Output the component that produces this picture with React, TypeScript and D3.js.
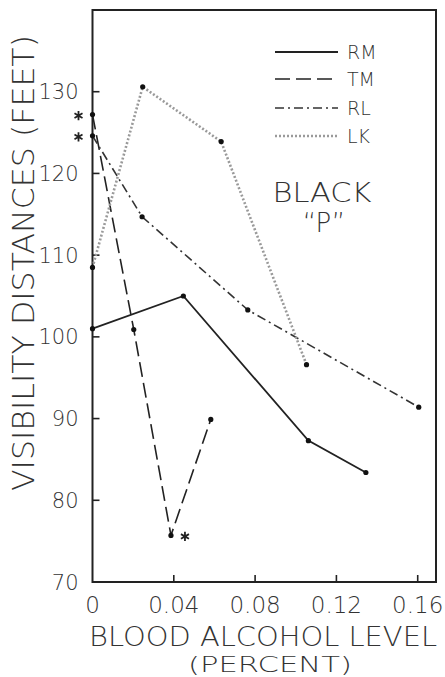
import React from "react";
import * as d3 from "d3";

const seriesNames = ["RM", "TM", "RL", "LK"];
const xRM = [0, 0.0447, 0.1062, 0.1345];
const yRM = [101.0, 105.0, 87.3, 83.4];
const xTM = [0, 0.0203, 0.0386, 0.0582];
const yTM = [127.2, 100.9, 75.7, 89.9];
const xRL = [0, 0.0244, 0.0764, 0.1605];
const yRL = [124.6, 114.7, 103.3, 91.4];
const xLK = [0, 0.0247, 0.0633, 0.1053];
const yLK = [108.5, 130.6, 123.9, 96.6];
const xTicks = [0, 0.04, 0.08, 0.12, 0.16];
const xTickLabels = ["0", "0.04", "0.08", "0.12", "0.16"];
const yTicks = [70, 80, 90, 100, 110, 120, 130];
// asterisk annotations: [series index, point index, side]
const asterisks = [
  [1, 0, -1],
  [2, 0, -1],
  [1, 2, 1],
];

const W = 445;
const H = 677;
const FONT = "'DejaVu Sans', 'Liberation Sans', sans-serif";

export default function App() {
  const x = d3.scaleLinear().domain([0, 0.169]).range([92.5, 436]);
  const y = d3.scaleLinear().domain([70, 140]).range([582, 10]);

  const xs = [xRM, xTM, xRL, xLK];
  const ys = [yRM, yTM, yRL, yLK];
  const styles = [
    { stroke: "#222", width: 1.8, dash: "none" },
    { stroke: "#222", width: 1.6, dash: "15,6" },
    { stroke: "#333", width: 1.6, dash: "9,4,2,4" },
    { stroke: "#9a9a9a", width: 2.6, dash: "2,2" },
  ];

  const line = d3
    .line<[number, number]>()
    .x((d) => x(d[0]))
    .y((d) => y(d[1]));

  const sym = d3.symbol(d3.symbolAsterisk, 60)();

  const legendY = [52, 79, 108, 136];

  return (
    <svg
      width={W}
      height={H}
      style={{ position: "absolute", left: 0, top: 0, background: "#fff" }}
      fontFamily={FONT}
    >
      <rect x={0} y={0} width={W} height={H} fill="#fff" />
      {/* frame */}
      <rect
        x={x(0)}
        y={y(140)}
        width={x(0.169) - x(0)}
        height={y(70) - y(140)}
        fill="none"
        stroke="#222"
        strokeWidth={2}
      />
      {/* y ticks */}
      {yTicks.map((t) => (
        <g key={"yt" + t}>
          {t > 70 && (
            <line x1={x(0)} x2={x(0) + 7} y1={y(t)} y2={y(t)} stroke="#222" strokeWidth={1.6} />
          )}
          <text
            x={x(0) - 14}
            y={y(t)}
            dy="0.36em"
            textAnchor="end"
            fontSize={21}
            fill="#333"
            fontWeight={200}
          >
            {t}
          </text>
        </g>
      ))}
      {/* x ticks */}
      {xTicks.map((t, i) => (
        <g key={"xt" + t}>
          {t > 0 && (
            <line x1={x(t)} x2={x(t)} y1={y(70)} y2={y(70) - 7} stroke="#222" strokeWidth={1.6} />
          )}
          <text
            x={x(t)}
            y={613}
            textAnchor="middle"
            fontSize={23}
            fill="#333"
            fontWeight={200}
          >
            {xTickLabels[i]}
          </text>
        </g>
      ))}
      {/* series */}
      {xs.map((xa, si) => {
        const pts = xa.map((v, i) => [v, ys[si][i]] as [number, number]);
        const s = styles[si];
        return (
          <g key={"s" + si}>
            <path
              d={line(pts) || ""}
              fill="none"
              stroke={s.stroke}
              strokeWidth={s.width}
              strokeDasharray={s.dash}
            />
            {pts.map((p, i) => (
              <circle key={i} cx={x(p[0])} cy={y(p[1])} r={2.6} fill="#111" />
            ))}
          </g>
        );
      })}
      {/* asterisks */}
      {asterisks.map(([si, pi, side], k) => (
        <path
          key={"a" + k}
          d={sym || ""}
          transform={`translate(${x(xs[si][pi]) + side * 14},${y(ys[si][pi]) + 1})`}
          fill="none"
          stroke="#222"
          strokeWidth={1.8}
        />
      ))}
      {/* legend */}
      {seriesNames.map((n, i) => (
        <g key={"l" + n}>
          <line
            x1={275}
            x2={338}
            y1={legendY[i]}
            y2={legendY[i]}
            stroke={styles[i].stroke}
            strokeWidth={styles[i].width}
            strokeDasharray={styles[i].dash}
          />
          <text x={347} y={legendY[i]} dy="0.36em" fontSize={19} fill="#333" fontWeight={200}>
            {n}
          </text>
        </g>
      ))}
      {/* BLACK "P" */}
      <text x={322} y={202} textAnchor="middle" fontSize={26} fill="#333" fontWeight={200} textLength={99} lengthAdjust="spacingAndGlyphs">
        BLACK
      </text>
      <text x={324} y={232} textAnchor="middle" fontSize={26} fill="#333" fontWeight={200}>
        {"\u201CP\u201D"}
      </text>
      {/* axis titles */}
      <text
        transform={`translate(34,263) rotate(-90)`}
        textAnchor="middle"
        fontSize={30}
        fill="#333"
        fontWeight={200}
        textLength={456}
        lengthAdjust="spacingAndGlyphs"
      >
        VISIBILITY  DISTANCES  (FEET)
      </text>
      <text
        x={263}
        y={646}
        textAnchor="middle"
        fontSize={27}
        fill="#333"
        fontWeight={200}
        textLength={348}
        lengthAdjust="spacingAndGlyphs"
      >
        BLOOD ALCOHOL LEVEL
      </text>
      <text
        x={270}
        y={672}
        textAnchor="middle"
        fontSize={21}
        fill="#333"
        fontWeight={200}
        textLength={164}
        lengthAdjust="spacingAndGlyphs"
      >
        (PERCENT)
      </text>
    </svg>
  );
}
